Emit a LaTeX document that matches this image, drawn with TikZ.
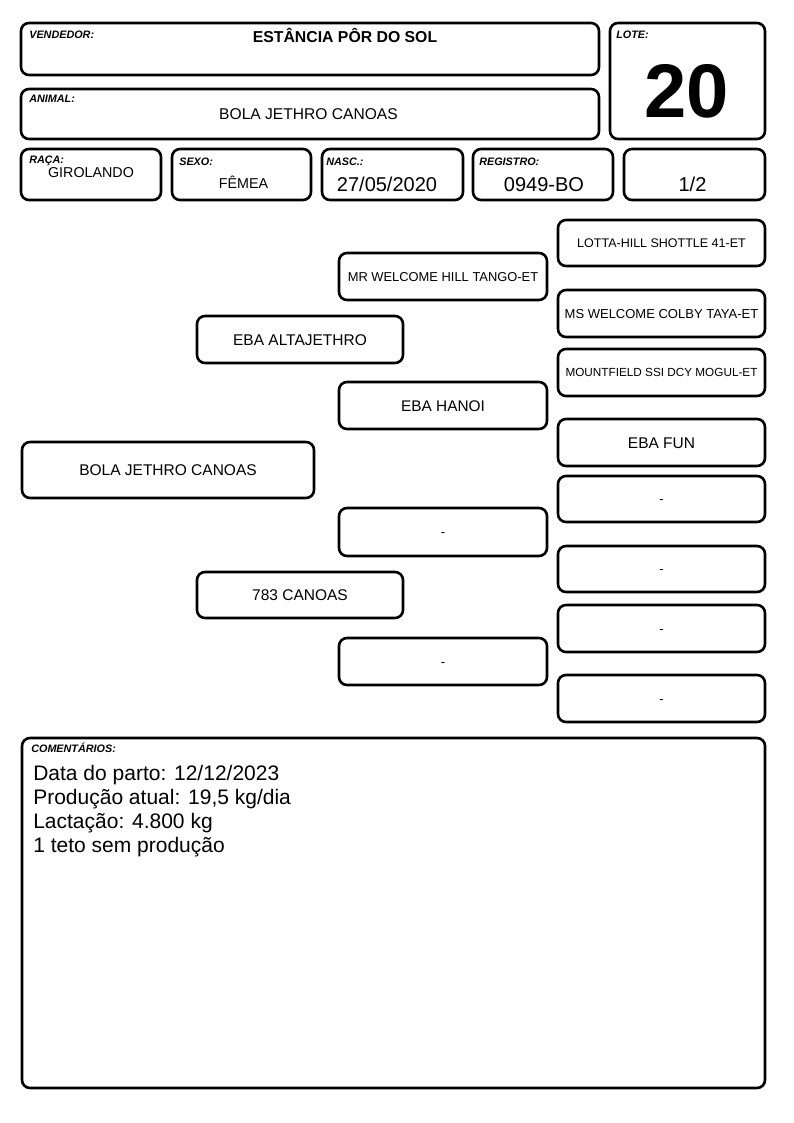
\documentclass[tikz,border=0pt]{standalone}
\usepackage{fontspec}
\setmainfont{Liberation Sans}
\begin{document}
\begin{tikzpicture}[x=1pt,y=-1pt,line width=2.6pt,
	caixa/.style={draw,rounded corners=8pt,inner sep=0pt},
	rotulo/.style={anchor=base west,inner sep=0pt,font=\fontsize{10.8}{12}\selectfont\bfseries\itshape},
	valor/.style={anchor=base,inner sep=0pt}]
	\useasboundingbox (0,0) rectangle (794,1123);
	% moldura do cabecalho
	\foreach \nome/\xa/\ya/\xb/\yb in {vendedor/21/23/599/75, animal/21/89/599/139, lote/610/23/765/139,
		raca/21/149/161/200, sexo/172/149/311/200, nasc/322/149/463/200, registro/473/149/613/200,
		parte/624/149/765/200, comentarios/22/738/765/1088}{
		\node[caixa,minimum width={(\xb-\xa)*1pt},minimum height={(\yb-\ya)*1pt}] (\nome) at ({(\xa+\xb)/2},{(\ya+\yb)/2}) {};
	}
	\foreach \nome/\x/\y/\t in {lvendedor/28/39/VENDEDOR:, lanimal/28/103/ANIMAL:, llote/615/39/LOTE:,
		lraca/28/164/RAÇA:, lsexo/178/165.5/SEXO:, lnasc/325/165.5/NASC.:, lregistro/478/165.5/REGISTRO:,
		lcomentarios/30/752.5/COMENTÁRIOS:}{
		\node[rotulo] (\nome) at (\x,\y) {\t};
	}
	\node[valor,font=\fontsize{15.8}{18}\selectfont\bfseries] (tvendedor) at (345,42.2) {ESTÂNCIA PÔR DO SOL};
	\node[valor,font=\fontsize{15.6}{18}\selectfont] (tanimal) at (308.5,119.1) {BOLA JETHRO CANOAS};
	\node[valor,font=\fontsize{76}{80}\selectfont\bfseries] (tlote) at (687,118) {20};
	\foreach \nome/\x/\y/\tam/\t in {traca/91/177.6/14.3/GIROLANDO, tsexo/243.5/189/14.3/FÊMEA,
		tnasc/387/192/20/27\slash05\slash2020, tregistro/544/191.5/20/0949-BO, tparte/692.5/192/20/1\slash2}{
		\node[valor,font=\fontsize{\tam}{\tam}\selectfont] (\nome) at (\x,\y) {\t};
	}
	% genealogia
	\foreach \nome/\xa/\ya/\xb/\yb/\tam/\t in {animal1/22/442/314/498/15.5/BOLA JETHRO CANOAS,
		pai/197/316/403/363/15.5/EBA ALTAJETHRO, mae/197/572/403/618/15.5/783 CANOAS,
		avopp/339/253/547/300/12.9/MR WELCOME HILL TANGO-ET, avopm/339/382/547/429/15.4/EBA HANOI,
		avomp/339/508/547/556/13/-, avomm/339/638/547/685/13/-,
		bisa1/558/220/765/266/12.5/LOTTA-HILL SHOTTLE 41-ET, bisa2/558/290/765/337/13/MS WELCOME COLBY TAYA-ET,
		bisa3/558/349/765/396/11.75/MOUNTFIELD SSI DCY MOGUL-ET, bisa4/558/419/765/466/15.5/EBA FUN,
		bisa5/558/476/765/522/13/-, bisa6/558/546/765/592/13/-, bisa7/558/605/765/652/13/-, bisa8/558/675/765/722/13/-}{
		\node[caixa,minimum width={(\xb-\xa)*1pt},minimum height={(\yb-\ya)*1pt},font=\fontsize{\tam}{\tam}\selectfont,
			text height={0.716*\tam*1pt},text depth=0pt]
			(\nome) at ({(\xa+\xb)/2},{(\ya+\yb)/2}) {\t};
	}
	% comentarios
	\foreach \t [count=\i from 0] in {Data do parto: 12/12/2023, {Produção atual: 19,5 kg/dia},
		Lactação: 4.800 kg, 1 teto sem produção}{
		\node[rotulo,font=\fontsize{21}{24}\selectfont] (linha\i) at (32,780+24*\i) {\t};
	}
\end{tikzpicture}
\end{document}
